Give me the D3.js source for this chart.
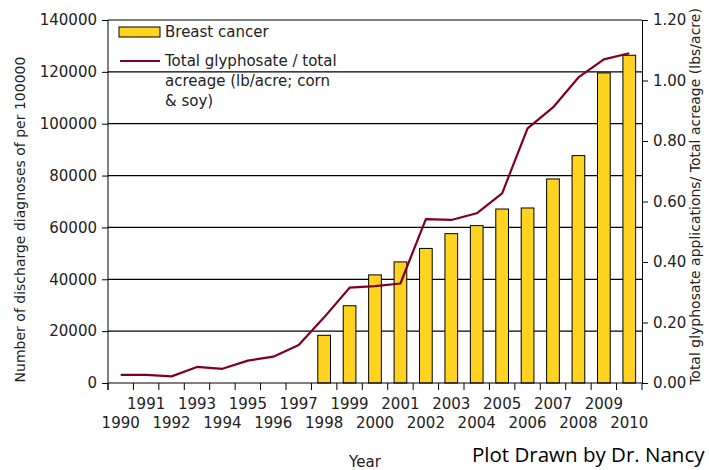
<!DOCTYPE html>
<html>
<head>
<meta charset="utf-8">
<script src="https://cdn.jsdelivr.net/npm/d3@7"></script>
<style>
  body { margin: 0; background: #fff; }
  svg { display: block; font-family: "DejaVu Sans", sans-serif; }
</style>
</head>
<body>
<svg id="chart" width="709" height="470"></svg>
<script>
// data
const years = d3.range(1990, 2011);
const cancerYears = [1998, 1999, 2000, 2001, 2002, 2003, 2004, 2005, 2006, 2007, 2008, 2009, 2010];
const cancerValues = [18400, 29800, 41700, 46700, 51900, 57600, 60700, 67100, 67500, 78700, 87700, 119600, 126400];
const glyphosate = [0.027, 0.027, 0.022, 0.053, 0.047, 0.074, 0.087, 0.126, 0.217, 0.315,
  0.320, 0.329, 0.542, 0.539, 0.561, 0.627, 0.842, 0.911, 1.010, 1.070, 1.090];
const leftTicks = [0, 20000, 40000, 60000, 80000, 100000, 120000, 140000];
const rightTicks = [0, 0.2, 0.4, 0.6, 0.8, 1.0, 1.2];

const width = 709, height = 470;
const marginLeft = 108, marginRight = 67, marginTop = 20, marginBottom = 87;
const barColor = "#ffd320", lineColor = "#7e0021";

const svg = d3.select("#chart");

const x = d3.scaleBand().domain(years).range([marginLeft, width - marginRight]).paddingInner(0).paddingOuter(0);
const y = d3.scaleLinear().domain([0, 140000]).range([height - marginBottom, marginTop]);
const y2 = d3.scaleLinear().domain([0, 1.2]).range([height - marginBottom, marginTop]);

// grid lines
svg.append("g")
  .selectAll("line")
  .data(leftTicks.slice(1))
  .enter().append("line")
    .attr("x1", marginLeft).attr("x2", width - marginRight)
    .attr("y1", d => y(d)).attr("y2", d => y(d))
    .attr("stroke", "#000").attr("stroke-width", 1.2);

// bars
svg.append("g")
  .selectAll("rect")
  .data(cancerYears.map((yr, i) => ({year: yr, value: cancerValues[i]})))
  .enter().append("rect")
    .attr("x", d => x(d.year) + x.bandwidth() / 4)
    .attr("width", x.bandwidth() / 2)
    .attr("y", d => y(d.value))
    .attr("height", d => y(0) - y(d.value))
    .attr("fill", barColor)
    .attr("stroke", "#000")
    .attr("stroke-width", 1);

// glyphosate line
svg.append("path")
  .datum(years.map((yr, i) => ({year: yr, value: glyphosate[i]})))
  .attr("fill", "none")
  .attr("stroke", lineColor)
  .attr("stroke-width", 2.2)
  .attr("stroke-linejoin", "round")
  .attr("d", d3.line()
    .x(d => x(d.year) + x.bandwidth() / 2)
    .y(d => y2(d.value)));

// left axis
const yAxis = svg.append("g")
  .attr("transform", `translate(${marginLeft},0)`)
  .call(d3.axisLeft(y).tickValues(leftTicks).tickFormat(d3.format("d")).tickSize(6).tickPadding(5).tickSizeOuter(0));
yAxis.select(".domain").attr("d", `M0,${y(140000)}V${y(0) + 7}`);

// right axis
const y2Axis = svg.append("g")
  .attr("transform", `translate(${width - marginRight},0)`)
  .call(d3.axisRight(y2).tickValues(rightTicks).tickFormat(d3.format(".2f")).tickSize(6).tickPadding(5).tickSizeOuter(0));

// bottom axis: ticks on band boundaries, labels staggered
const xAxis = svg.append("g")
  .attr("transform", `translate(0,${y(0)})`);
xAxis.append("line")
  .attr("x1", marginLeft).attr("x2", width - marginRight)
  .attr("stroke", "#000");
xAxis.selectAll(".xtick")
  .data(years.concat([2011]))
  .enter().append("line")
    .attr("class", "xtick")
    .attr("x1", d => d <= 2010 ? x(d) : x(2010) + x.bandwidth())
    .attr("x2", d => d <= 2010 ? x(d) : x(2010) + x.bandwidth())
    .attr("y1", 0).attr("y2", 7)
    .attr("stroke", "#000");
xAxis.selectAll(".xlabel")
  .data(years)
  .enter().append("text")
    .attr("class", "xlabel")
    .attr("x", d => x(d) + x.bandwidth() / 2)
    .attr("y", (d, i) => i % 2 ? 26 : 45)
    .attr("text-anchor", "middle")
    .attr("font-size", 15)
    .attr("fill", "#222")
    .text(d => d);

svg.selectAll(".tick text").attr("font-size", 15).attr("font-family", "DejaVu Sans").attr("fill", "#222");
svg.selectAll(".domain, .tick line").attr("stroke", "#000");

// axis titles
svg.append("text")
  .attr("transform", `translate(25,${(y(0) + y(140000)) / 2 + 18}) rotate(-90)`)
  .attr("text-anchor", "middle")
  .attr("font-size", 14)
  .attr("fill", "#222")
  .text("Number of discharge diagnoses of  per 100000");

svg.append("text")
  .attr("transform", `translate(700,${(y(0) + y(140000)) / 2 - 5}) rotate(-90)`)
  .attr("text-anchor", "middle")
  .attr("font-size", 14)
  .attr("fill", "#222")
  .text("Total glyphosate applications/ Total acreage (lbs/acre)");

svg.append("text")
  .attr("x", 365).attr("y", 467)
  .attr("text-anchor", "middle")
  .attr("font-size", 15)
  .attr("fill", "#222")
  .text("Year");

svg.append("text")
  .attr("x", 472).attr("y", 462)
  .attr("font-family", "Open Sans")
  .attr("font-size", 20.5)
  .attr("fill", "#000")
  .text("Plot Drawn by Dr. Nancy");

// legend
const legend = svg.append("g").attr("transform", "translate(119,27)");
legend.append("rect")
  .attr("width", 41).attr("height", 10)
  .attr("fill", barColor).attr("stroke", "#000");
legend.append("text")
  .attr("x", 46).attr("y", 10)
  .attr("font-size", 15).attr("fill", "#222")
  .text("Breast cancer");
legend.append("line")
  .attr("x1", 1).attr("x2", 41).attr("y1", 34).attr("y2", 34)
  .attr("stroke", lineColor).attr("stroke-width", 2);
const legendLines = ["Total glyphosate / total", "acreage (lb/acre; corn", "& soy)"];
legend.append("text")
  .attr("font-size", 15).attr("fill", "#222")
  .selectAll("tspan")
  .data(legendLines)
  .enter().append("tspan")
    .attr("x", 46)
    .attr("y", (d, i) => 39 + i * 20)
    .text(d => d);
</script>
</body>
</html>
